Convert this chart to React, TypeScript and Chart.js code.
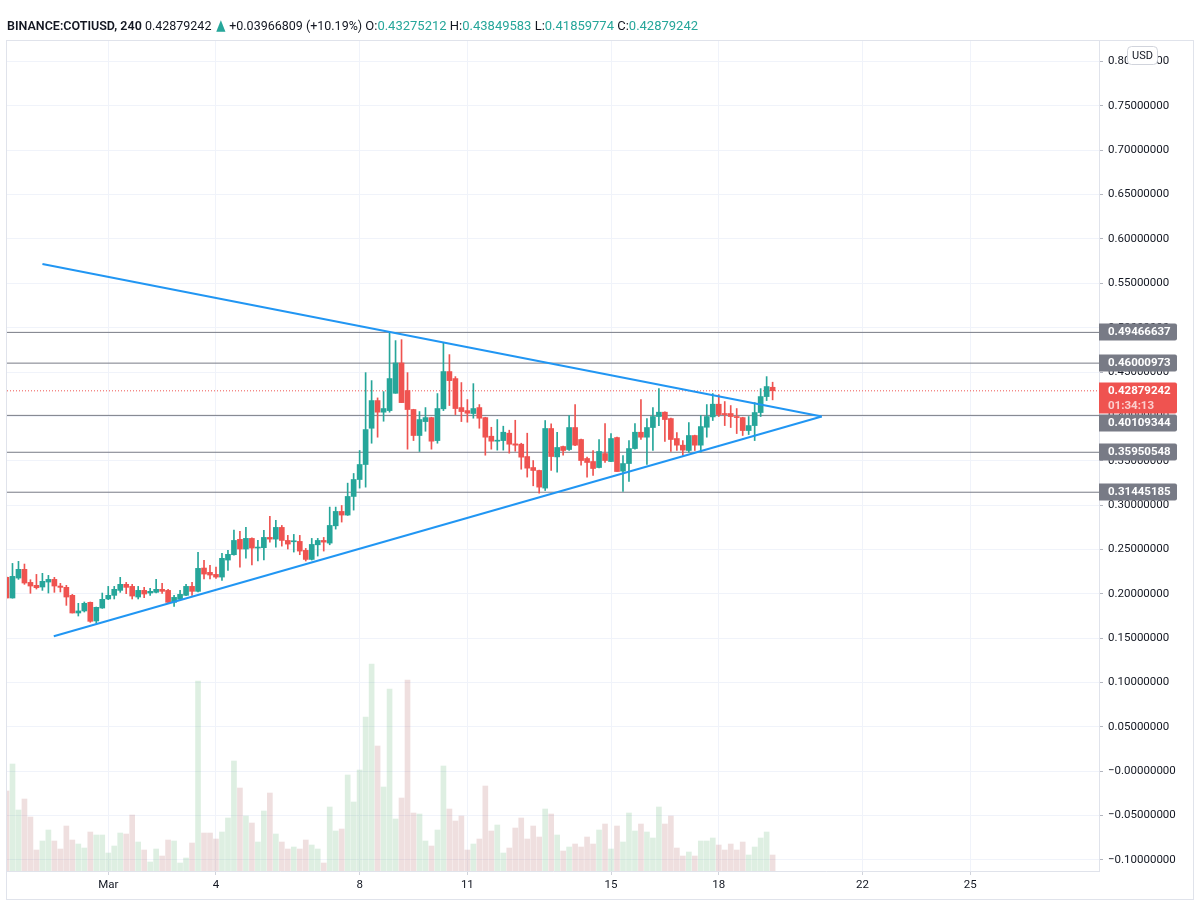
import React, { useEffect, useRef } from 'react';
import { Chart, registerables } from 'chart.js';
Chart.register(...registerables);

// ---- header info ----
const SYMBOL = 'BINANCE:COTIUSD, 240';
const LAST = 0.42879242;
const CHANGE = '+0.03966809 (+10.19%)';
const HDR_O = '0.43275212';
const HDR_H = '0.43849583';
const HDR_L = '0.41859774';
const HDR_C = '0.42879242';
const COUNTDOWN = '01:34:13';

// ---- bars: 4h candles starting Feb 26 2021 04:00 UTC ----
const START_UTC = Date.UTC(2021, 1, 26, 4);
const BAR_MS = 4 * 3600 * 1000;

const opens = [
  0.2185, 0.1952, 0.2177, 0.2275, 0.2128, 0.2095, 0.2076, 0.2132, 0.2162, 0.2087,
  0.2072, 0.1982, 0.1783, 0.1806, 0.1903, 0.1693, 0.1839, 0.1941, 0.1982, 0.2038,
  0.2106, 0.2083, 0.1963, 0.2038, 0.2008, 0.2016, 0.2050, 0.2038, 0.1903, 0.1937,
  0.1982, 0.2083, 0.2027, 0.2290, 0.2241, 0.2218, 0.2188, 0.2380, 0.2440, 0.2613,
  0.2504, 0.2624, 0.2515, 0.2519, 0.2635, 0.2616, 0.2748, 0.2601, 0.2586, 0.2590,
  0.2489, 0.2387, 0.2552, 0.2601, 0.2571, 0.2766, 0.2928, 0.2887, 0.3097, 0.3288,
  0.3457, 0.3866, 0.4178, 0.4047, 0.4065, 0.4260, 0.4602, 0.4291, 0.4077, 0.3784,
  0.3941, 0.3986, 0.3727, 0.4085, 0.4505, 0.4426, 0.4099, 0.4065, 0.4032, 0.4099,
  0.3986, 0.3776, 0.3720, 0.3727, 0.3810, 0.3690, 0.3686, 0.3547, 0.3423, 0.3390,
  0.3191, 0.3863, 0.3543, 0.3660, 0.3626, 0.3874, 0.3739, 0.3525, 0.3491, 0.3423,
  0.3581, 0.3491, 0.3761, 0.3382, 0.3468, 0.3637, 0.3821, 0.3765, 0.3874, 0.3998,
  0.4047, 0.3975, 0.3750, 0.3675, 0.3615, 0.3784, 0.3675, 0.3877, 0.3994, 0.4137,
  0.4032, 0.4032, 0.3998, 0.3986, 0.3840, 0.3896, 0.4043, 0.4223, 0.4328,
];
const highs = [
  0.2190, 0.2342, 0.2365, 0.2335, 0.2158, 0.2218, 0.2230, 0.2207, 0.2185, 0.2117,
  0.2095, 0.1993, 0.1892, 0.1907, 0.1907, 0.1850, 0.2008, 0.2083, 0.2083, 0.2185,
  0.2128, 0.2106, 0.2083, 0.2072, 0.2061, 0.2162, 0.2117, 0.2050, 0.1982, 0.2038,
  0.2106, 0.2128, 0.2466, 0.2376, 0.2320, 0.2301, 0.2455, 0.2489, 0.2718, 0.2703,
  0.2748, 0.2630, 0.2601, 0.2714, 0.2872, 0.2827, 0.2770, 0.2658, 0.2669, 0.2658,
  0.2511, 0.2624, 0.2624, 0.2635, 0.2977, 0.2977, 0.2995, 0.3247, 0.3356, 0.3615,
  0.4493, 0.4403, 0.4208, 0.4279, 0.4947, 0.4854, 0.4865, 0.4493, 0.4080, 0.4054,
  0.4099, 0.3990, 0.4257, 0.4831, 0.4696, 0.4448, 0.4381, 0.4189, 0.4369, 0.4133,
  0.3990, 0.3877, 0.3964, 0.3889, 0.3844, 0.3956, 0.3697, 0.3810, 0.3502, 0.3394,
  0.3953, 0.3915, 0.3821, 0.3664, 0.4009, 0.4133, 0.3743, 0.3540, 0.3615, 0.3739,
  0.3919, 0.3806, 0.3765, 0.3559, 0.3727, 0.3919, 0.4189, 0.3975, 0.4099, 0.4313,
  0.4050, 0.3980, 0.3818, 0.3727, 0.3930, 0.3788, 0.4009, 0.4133, 0.4257, 0.4245,
  0.4167, 0.4122, 0.4088, 0.3990, 0.3998, 0.4155, 0.4313, 0.4448, 0.4385,
];
const lows = [
  0.1950, 0.1950, 0.2162, 0.2106, 0.2005, 0.2053, 0.2038, 0.2008, 0.2016, 0.2020,
  0.1869, 0.1783, 0.1749, 0.1794, 0.1678, 0.1667, 0.1835, 0.1933, 0.1941, 0.2016,
  0.2001, 0.1941, 0.1941, 0.1956, 0.1982, 0.2008, 0.2005, 0.1892, 0.1858, 0.1926,
  0.1978, 0.1982, 0.2020, 0.2166, 0.2166, 0.2173, 0.2151, 0.2264, 0.2435, 0.2301,
  0.2402, 0.2324, 0.2369, 0.2380, 0.2582, 0.2526, 0.2537, 0.2504, 0.2470, 0.2440,
  0.2369, 0.2380, 0.2425, 0.2481, 0.2552, 0.2729, 0.2808, 0.2883, 0.2943, 0.3191,
  0.3202, 0.3697, 0.3765, 0.3945, 0.4047, 0.4260, 0.4155, 0.3630, 0.3727, 0.3604,
  0.3832, 0.3630, 0.3697, 0.4065, 0.4122, 0.4020, 0.3941, 0.3934, 0.3979, 0.3866,
  0.3562, 0.3630, 0.3619, 0.3619, 0.3585, 0.3607, 0.3404, 0.3315, 0.3217, 0.3134,
  0.3164, 0.3390, 0.3371, 0.3562, 0.3615, 0.3670, 0.3450, 0.3315, 0.3333, 0.3420,
  0.3480, 0.3488, 0.3378, 0.3153, 0.3266, 0.3630, 0.3739, 0.3457, 0.3615, 0.3896,
  0.3716, 0.3604, 0.3615, 0.3559, 0.3596, 0.3615, 0.3596, 0.3765, 0.3953, 0.3998,
  0.3896, 0.3874, 0.3806, 0.3784, 0.3795, 0.3727, 0.3998, 0.4178, 0.4186,
];
const closes = [
  0.1952, 0.2196, 0.2275, 0.2121, 0.2087, 0.2068, 0.2140, 0.2162, 0.2087, 0.2072,
  0.1963, 0.1783, 0.1806, 0.1892, 0.1689, 0.1847, 0.1937, 0.1982, 0.2050, 0.2106,
  0.2072, 0.1974, 0.2038, 0.1997, 0.2027, 0.2050, 0.2027, 0.1903, 0.1959, 0.1993,
  0.2083, 0.2027, 0.2286, 0.2222, 0.2211, 0.2188, 0.2399, 0.2444, 0.2601, 0.2504,
  0.2624, 0.2515, 0.2522, 0.2635, 0.2616, 0.2748, 0.2601, 0.2560, 0.2594, 0.2481,
  0.2387, 0.2556, 0.2601, 0.2582, 0.2770, 0.2928, 0.2887, 0.3097, 0.3288, 0.3457,
  0.3851, 0.4178, 0.4047, 0.4088, 0.4426, 0.4602, 0.4155, 0.4077, 0.3784, 0.3964,
  0.3986, 0.3720, 0.4088, 0.4505, 0.4403, 0.4088, 0.4054, 0.4035, 0.4088, 0.3979,
  0.3765, 0.3720, 0.3727, 0.3821, 0.3686, 0.3675, 0.3540, 0.3416, 0.3390, 0.3202,
  0.3863, 0.3547, 0.3649, 0.3615, 0.3874, 0.3675, 0.3502, 0.3480, 0.3412, 0.3604,
  0.3502, 0.3750, 0.3378, 0.3468, 0.3637, 0.3821, 0.3765, 0.3874, 0.3998, 0.4047,
  0.3964, 0.3739, 0.3675, 0.3619, 0.3784, 0.3675, 0.3885, 0.3998, 0.4137, 0.4020,
  0.4020, 0.3998, 0.3986, 0.3840, 0.3896, 0.4043, 0.4223, 0.4336, 0.4288,
];
// volume (millions)
const volumes = [
  8.0, 10.7, 6.1, 7.2, 5.4, 2.1, 3.0, 4.1, 3.0, 2.2,
  4.5, 3.1, 2.7, 2.3, 3.9, 3.6, 3.6, 1.8, 2.5, 3.8,
  3.7, 5.6, 2.9, 2.1, 0.9, 2.2, 1.5, 3.1, 3.0, 0.8,
  1.3, 2.8, 19.0, 3.8, 3.8, 3.2, 3.9, 5.3, 11.0, 8.3,
  5.5, 4.8, 2.9, 6.0, 7.8, 3.7, 2.9, 2.2, 2.4, 2.2,
  3.1, 2.6, 2.2, 0.8, 6.4, 4.0, 4.2, 9.6, 6.9, 10.1,
  15.4, 20.7, 12.5, 8.4, 18.2, 5.2, 7.3, 19.1, 5.8, 5.7,
  3.0, 2.5, 4.1, 10.5, 6.2, 5.0, 5.5, 2.1, 2.7, 3.2,
  8.5, 4.0, 4.6, 1.8, 2.3, 4.3, 5.3, 3.2, 4.5, 3.4,
  6.2, 5.7, 3.6, 2.0, 2.4, 2.7, 2.4, 3.4, 2.7, 4.1,
  4.7, 2.2, 4.5, 2.9, 5.8, 4.0, 4.7, 3.9, 3.3, 6.4,
  4.7, 5.5, 2.3, 1.5, 1.9, 1.5, 3.0, 3.0, 3.3, 2.6,
  2.1, 2.7, 2.1, 2.9, 1.6, 2.4, 3.3, 3.9, 1.6,
];

// horizontal levels drawn on chart
const levelLines = [0.49466637, 0.46000973, 0.40109344, 0.35950548, 0.31445185];
// trend lines (bar index, price)
const upperTrend = [{ x: 6.0, y: 0.5717 }, { x: 136.2, y: 0.3998 }];
const lowerTrend = [{ x: 7.9, y: 0.152 }, { x: 136.2, y: 0.3998 }];

// axis ticks
const dayTickDates = [1, 4, 8, 11, 15, 18, 22, 25];
const dayTickLabels = ['Mar', '4', '8', '11', '15', '18', '22', '25'];
const priceTicks = [
  -0.1, -0.05, 0, 0.05, 0.1, 0.15, 0.2, 0.25, 0.3, 0.35, 0.4, 0.45, 0.5, 0.55, 0.6, 0.65,
  0.7, 0.75, 0.8,
];

const UP = '#26a69a';
const DOWN = '#ef5350';
const UP_VOL = 'rgba(90,175,110,0.2)';
const DOWN_VOL = 'rgba(175,95,95,0.2)';
const FONT = 'Roboto';

function fmtPrice(v: number) {
  if (Math.abs(v) < 1e-9) return '\u22120.00000000';
  if (v < 0) return '\u2212' + Math.abs(v).toFixed(8);
  return v.toFixed(8);
}

function rr(ctx: CanvasRenderingContext2D, x: number, y: number, w: number, h: number, r: number) {
  ctx.beginPath();
  ctx.moveTo(x, y);
  ctx.lineTo(x + w - r, y);
  ctx.quadraticCurveTo(x + w, y, x + w, y + r);
  ctx.lineTo(x + w, y + h - r);
  ctx.quadraticCurveTo(x + w, y + h, x + w - r, y + h);
  ctx.lineTo(x, y + h);
  ctx.closePath();
}

const overlayPlugin = {
  id: 'overlay',
  beforeDraw(chart: any) {
    const { ctx } = chart;
    ctx.save();
    ctx.fillStyle = '#ffffff';
    ctx.fillRect(0, 0, chart.width, chart.height);
    ctx.restore();
  },
  afterDraw(chart: any) {
    const { ctx, chartArea } = chart;
    const y = chart.scales.y;
    const x0 = chartArea.right;
    const w = 78;
    const boxH = 17;
    ctx.save();
    // frame
    ctx.strokeStyle = '#e0e3eb';
    ctx.lineWidth = 1;
    ctx.strokeRect(6.5, 40.5, 1187, 859);
    ctx.textBaseline = 'middle';
    ctx.textAlign = 'left';
    // last price box
    const lp = Math.round(y.getPixelForValue(LAST));
    const redTop = lp - 8.5;
    const redBot = redTop + 31;
    ctx.fillStyle = DOWN;
    rr(ctx, x0, redTop, w, 31, 2);
    ctx.fill();
    ctx.font = `bold 11.5px ${FONT}`;
    ctx.fillStyle = '#ffffff';
    ctx.fillText(LAST.toFixed(8), x0 + 9, lp + 0.5);
    ctx.fillStyle = 'rgba(255,255,255,0.72)';
    ctx.fillText(COUNTDOWN, x0 + 9, lp + 15);
    // level boxes, pushed clear of the last-price box
    levelLines.forEach((v) => {
      const py = Math.round(y.getPixelForValue(v));
      let top = py - boxH / 2;
      if (top < redBot + 1 && top + boxH > redTop - 1) {
        top = py >= lp ? redBot + 1 : redTop - 1 - boxH;
      }
      ctx.fillStyle = '#787b86';
      rr(ctx, x0, top, w, boxH, 2);
      ctx.fill();
      ctx.fillStyle = '#ffffff';
      ctx.font = `bold 11.5px ${FONT}`;
      ctx.fillText(v.toFixed(8), x0 + 9, top + boxH / 2 + 0.5);
    });
    // USD box
    ctx.fillStyle = '#ffffff';
    ctx.strokeStyle = '#d1d4dc';
    ctx.beginPath();
    const bx = 1127.5, by = 46.5, bw = 30, bh = 18, r = 4;
    ctx.moveTo(bx + r, by);
    ctx.arcTo(bx + bw, by, bx + bw, by + bh, r);
    ctx.arcTo(bx + bw, by + bh, bx, by + bh, r);
    ctx.arcTo(bx, by + bh, bx, by, r);
    ctx.arcTo(bx, by, bx + bw, by, r);
    ctx.closePath();
    ctx.fill();
    ctx.stroke();
    ctx.fillStyle = '#131722';
    ctx.font = `11px ${FONT}`;
    ctx.textAlign = 'center';
    ctx.fillText('USD', bx + bw / 2, by + bh / 2 + 0.5);
    ctx.restore();
  },
};

export default function App() {
  const ref = useRef<HTMLCanvasElement | null>(null);
  useEffect(() => {
    if (!ref.current) return;
    const up = opens.map((o, i) => closes[i] >= o);
    const dayIndex = dayTickDates.map((d) => (Date.UTC(2021, 2, d) - START_UTC) / BAR_MS);
    const xMin = 0.0835;
    const xMax = 182.53;
    const levelDs = levelLines.map((v) => ({
      type: 'line',
      data: [{ x: xMin, y: v }, { x: xMax, y: v }],
      borderColor: '#787b86',
      borderWidth: 1,
      pointRadius: 0,
      fill: false,
      yAxisID: 'y',
      order: 4,
    }));
    const chart = new Chart(ref.current, {
      type: 'bar',
      data: {
        datasets: [
          {
            type: 'line',
            data: upperTrend,
            borderColor: '#2196f3',
            borderWidth: 2,
            pointRadius: 0,
            fill: false,
            yAxisID: 'y',
            order: 0,
          },
          {
            type: 'line',
            data: lowerTrend,
            borderColor: '#2196f3',
            borderWidth: 2,
            pointRadius: 0,
            fill: false,
            yAxisID: 'y',
            order: 0,
          },
          {
            type: 'bar',
            data: opens.map((o, i) => ({ x: i, y: [o, closes[i]] })),
            backgroundColor: up.map((u) => (u ? UP : DOWN)),
            barThickness: 5,
            minBarLength: 1,
            grouped: false,
            yAxisID: 'y',
            order: 1,
          },
          {
            type: 'bar',
            data: highs.map((h, i) => ({ x: i, y: [lows[i], h] })),
            backgroundColor: up.map((u) => (u ? UP : DOWN)),
            barThickness: 1,
            grouped: false,
            yAxisID: 'y',
            order: 2,
          },
          {
            type: 'line',
            data: [{ x: xMin, y: LAST }, { x: xMax, y: LAST }],
            borderColor: DOWN,
            borderWidth: 1,
            borderDash: [1, 2],
            pointRadius: 0,
            fill: false,
            yAxisID: 'y',
            order: 3,
          },
          ...levelDs,
          {
            type: 'bar',
            data: volumes.map((v, i) => ({ x: i, y: v })),
            backgroundColor: up.map((u) => (u ? UP_VOL : DOWN_VOL)),
            barThickness: 5,
            grouped: false,
            yAxisID: 'vol',
            order: 9,
          },
        ] as any,
      },
      options: {
        responsive: false,
        animation: false,
        devicePixelRatio: 1,
        layout: { padding: { left: 7, top: 41, right: 1, bottom: 3 } },
        plugins: { legend: { display: false }, tooltip: { enabled: false } },
        events: [],
        scales: {
          x: {
            type: 'linear',
            min: xMin,
            max: xMax,
            offset: false,
            grid: { color: '#f0f3fa', offset: false, tickLength: 4, tickColor: '#d1d4dc' },
            border: { color: '#e0e3eb' },
            afterBuildTicks: (scale: any) => {
              scale.ticks = dayIndex.map((v) => ({ value: v }));
            },
            afterFit: (scale: any) => {
              scale.height = 28;
            },
            ticks: {
              autoSkip: false,
              maxRotation: 0,
              padding: 3,
              color: '#131722',
              font: { family: FONT, size: 11.5 },
              callback: (_v: any, i: number) => dayTickLabels[i],
            },
          },
          y: {
            type: 'linear',
            position: 'right',
            min: -0.1126,
            max: 0.8232,
            grid: { color: '#f0f3fa', tickLength: 4, tickColor: '#b2b5be' },
            border: { color: '#e0e3eb' },
            afterBuildTicks: (scale: any) => {
              scale.ticks = priceTicks.map((v) => ({ value: v }));
            },
            afterFit: (scale: any) => {
              scale.width = 94;
            },
            ticks: {
              autoSkip: false,
              padding: 5,
              color: '#131722',
              font: { family: FONT, size: 11.5 },
              callback: (v: any) => fmtPrice(Number(v)),
            },
          },
          vol: {
            type: 'linear',
            display: false,
            min: 0,
            max: 83,
          },
        },
      } as any,
      plugins: [overlayPlugin],
    });
    return () => chart.destroy();
  }, []);

  const dark = '#131722';
  const val = { color: UP, fontSize: 13 };
  const lab = { fontSize: 13 };
  return (
    <div
      style={{
        position: 'absolute',
        left: 0,
        top: 0,
        width: 1194,
        height: 902,
        background: '#fff',
        overflow: 'hidden',
      }}
    >
      <canvas ref={ref} width={1194} height={902} style={{ position: 'absolute', left: 0, top: 0 }} />
      <div
        style={{
          position: 'absolute',
          left: 7,
          top: 17,
          fontFamily: FONT,
          fontSize: 12.5,
          lineHeight: '18px',
          whiteSpace: 'nowrap',
          color: dark,
        }}
      >
        <span style={{ fontWeight: 600 }}>{SYMBOL}</span>
        <span> {LAST.toFixed(8)} </span>
        <span
          style={{
            color: UP,
            fontFamily: 'DejaVu Sans',
            fontSize: 15,
            lineHeight: '12px',
            display: 'inline-block',
            transform: 'scaleX(0.8)',
          }}
        >
          ▲
        </span>
        <span> {CHANGE} </span>
        <span style={lab}>O:</span>
        <span style={val}>{HDR_O}</span>
        <span style={lab}> H:</span>
        <span style={val}>{HDR_H}</span>
        <span style={lab}> L:</span>
        <span style={val}>{HDR_L}</span>
        <span style={lab}> C:</span>
        <span style={val}>{HDR_C}</span>
      </div>
    </div>
  );
}
